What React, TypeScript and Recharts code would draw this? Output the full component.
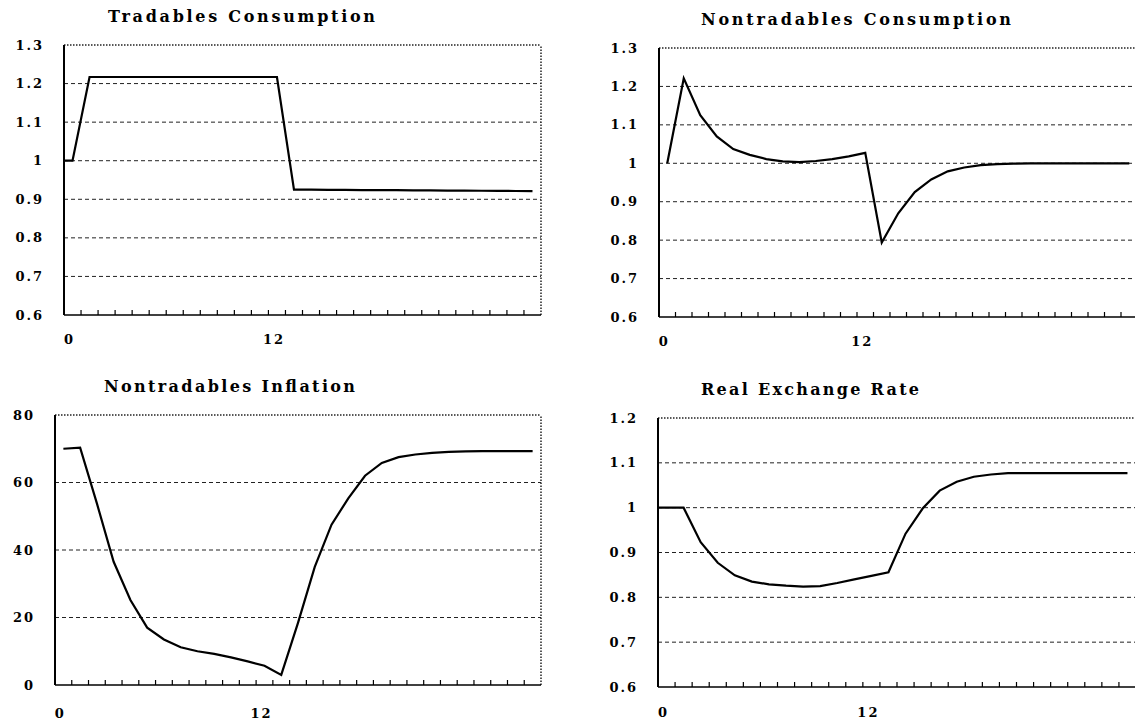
import React from 'react';
import { LineChart, Line, XAxis, YAxis, ReferenceLine } from 'recharts';

// periods (quarters) and values
const tradablesPeriods = [-0.5, 0, 1, 2, 3, 4, 5, 6, 7, 8, 9, 10, 11, 12, 13, 14, 15, 16, 17, 18, 19, 20, 21, 22, 23, 24, 25, 26, 27];
const tradables = [1.0, 1.0, 1.217, 1.217, 1.217, 1.217, 1.217, 1.217, 1.217, 1.217, 1.217, 1.217, 1.217, 1.217,
  0.925, 0.925, 0.9245, 0.9243, 0.924, 0.9237, 0.9235, 0.9232, 0.923, 0.9227, 0.9224, 0.9221, 0.9218, 0.9215, 0.921];

const nontradablesPeriods = [0, 1, 2, 3, 4, 5, 6, 7, 8, 9, 10, 11, 12, 13, 14, 15, 16, 17, 18, 19, 20, 21, 22, 23, 24, 25, 26, 27, 28];
const nontradables = [1.0, 1.221, 1.125, 1.07, 1.037, 1.022, 1.011, 1.005, 1.003, 1.006, 1.011, 1.018, 1.027,
  0.794, 0.87, 0.925, 0.958, 0.979, 0.989, 0.995, 0.998, 0.999, 1.0, 1.0, 1.0, 1.0, 1.0, 1.0, 1.0];

const inflationPeriods = [0, 1, 2, 3, 4, 5, 6, 7, 8, 9, 10, 11, 12, 13, 14, 15, 16, 17, 18, 19, 20, 21, 22, 23, 24, 25, 26, 27, 28];
const inflation = [70, 70.3, 53.8, 36.5, 25.2, 17.0, 13.5, 11.2, 10.0, 9.2, 8.2, 7.0, 5.7, 3.0,
  18.4, 35, 47.5, 55.3, 62, 65.8, 67.5, 68.3, 68.8, 69.1, 69.2, 69.3, 69.3, 69.3, 69.3];

const rerPeriods = [-0.5, 0, 1, 2, 3, 4, 5, 6, 7, 8, 9, 10, 11, 12, 13, 14, 15, 16, 17, 18, 19, 20, 21, 22, 23, 24, 25, 26, 27];
const rer = [1.0, 1.0, 1.0, 0.923, 0.877, 0.849, 0.835, 0.829, 0.826, 0.824, 0.825, 0.832, 0.84, 0.848, 0.856,
  0.942, 0.998, 1.038, 1.058, 1.069, 1.074, 1.077, 1.077, 1.077, 1.077, 1.077, 1.077, 1.077, 1.077];

const consumptionTicks = [0.6, 0.7, 0.8, 0.9, 1, 1.1, 1.2, 1.3];
const inflationTicks = [0, 20, 40, 60, 80];
const rerTicks = [0.6, 0.7, 0.8, 0.9, 1, 1.1, 1.2];
const xLabels = [0, 12];

const titles = [
  { text: 'Tradables Consumption', x: 108, y: 22, w: 267 },
  { text: 'Nontradables Consumption', x: 701, y: 25, w: 310 },
  { text: 'Nontradables Inflation', x: 104, y: 392, w: 251 },
  { text: 'Real Exchange Rate', x: 701, y: 395, w: 218 },
];

const serif = { fontFamily: '"DejaVu Serif", "Liberation Serif", serif', fontWeight: 700 };

const rows = (periods: number[], values: number[]) => periods.map((t, i) => ({ t, v: values[i] }));

function xTicksFor(max: number) {
  const half: number[] = [];
  for (let t = 0.5; t < max; t += 1) half.push(t);
  return [...half, ...xLabels].sort((a, b) => a - b);
}

type PanelProps = {
  left: number; top: number; width: number; height: number;
  margin: { top: number; right: number; bottom: number; left: number };
  yWidth: number; xHeight: number; xMax: number;
  yDomain: [number, number]; yTicks: number[];
  data: { t: number; v: number }[];
  labelDy: number;
};

function Panel(p: PanelProps) {
  const XTick = (props: any) => {
    const { x, y, payload } = props;
    if (xLabels.includes(payload.value)) {
      return (
        <text x={x - 3} y={y + p.labelDy} textAnchor="middle" dominantBaseline="central"
          fontSize={13} letterSpacing={2} fill="#000" style={serif}>{payload.value}</text>
      );
    }
    return <line x1={x} x2={x} y1={y} y2={y - 5} stroke="#000" strokeWidth={1.2} />;
  };
  const YTick = (props: any) => {
    const { x, y, payload } = props;
    return (
      <text x={x - 20} y={y} textAnchor="end" dominantBaseline="central"
        fontSize={13} letterSpacing={2} fill="#000" style={serif}>{payload.value}</text>
    );
  };
  const inner = p.yTicks.slice(1, -1);
  const yTop = p.yTicks[p.yTicks.length - 1];
  return (
    <div style={{ position: 'absolute', left: p.left, top: p.top }}>
      <LineChart width={p.width} height={p.height} data={p.data} margin={p.margin}>
        <XAxis type="number" dataKey="t" domain={[-0.5, p.xMax]} ticks={xTicksFor(p.xMax)} interval={0}
          height={p.xHeight} tickLine={false} tickSize={0} tickMargin={0} tick={XTick}
          axisLine={{ stroke: '#000', strokeWidth: 1.5 }} />
        <YAxis type="number" domain={p.yDomain} ticks={p.yTicks} interval={0} width={p.yWidth}
          tickLine={false} tickSize={0} tickMargin={0} tick={YTick}
          axisLine={{ stroke: '#000', strokeWidth: 2 }} />
        {inner.map(v => (
          <ReferenceLine key={v} y={v} stroke="#222" strokeWidth={1} strokeDasharray="4 3" />
        ))}
        <ReferenceLine y={yTop} stroke="#222" strokeWidth={1.3} strokeDasharray="1.5 1.5" />
        <ReferenceLine x={p.xMax} stroke="#222" strokeWidth={1.5} strokeDasharray="1.5 1.5" />
        <Line type="linear" dataKey="v" stroke="#000" strokeWidth={2.2} dot={false} isAnimationActive={false} />
      </LineChart>
    </div>
  );
}

export default function App() {
  return (
    <div style={{ position: 'absolute', left: 0, top: 0, width: 1135, height: 726, overflow: 'hidden', background: '#fff' }}>
      <Panel left={0} top={0} width={560} height={360}
        margin={{ top: 45, right: 19, bottom: 5, left: 0 }} yWidth={64} xHeight={40} xMax={27.5}
        yDomain={[0.6, 1.3]} yTicks={consumptionTicks} data={rows(tradablesPeriods, tradables)} labelDy={24} />
      <Panel left={580} top={0} width={560} height={360}
        margin={{ top: 48, right: 2.5, bottom: 5, left: 0 }} yWidth={79} xHeight={38} xMax={28.5}
        yDomain={[0.6, 1.3]} yTicks={consumptionTicks} data={rows(nontradablesPeriods, nontradables)} labelDy={24} />
      <Panel left={0} top={370} width={560} height={356}
        margin={{ top: 45, right: 19, bottom: 5, left: 0 }} yWidth={55} xHeight={36} xMax={28.5}
        yDomain={[0, 80]} yTicks={inflationTicks} data={rows(inflationPeriods, inflation)} labelDy={28} />
      <Panel left={580} top={370} width={560} height={356}
        margin={{ top: 48, right: 4, bottom: 5, left: 0 }} yWidth={78} xHeight={34} xMax={27.5}
        yDomain={[0.6, 1.2]} yTicks={rerTicks} data={rows(rerPeriods, rer)} labelDy={25} />
      <svg width={1135} height={726} style={{ position: 'absolute', left: 0, top: 0, pointerEvents: 'none' }}>
        {titles.map(t => (
          <text key={t.text} x={t.x} y={t.y} textLength={t.w} lengthAdjust="spacing"
            fontSize={16} fill="#000" style={serif}>{t.text}</text>
        ))}
      </svg>
    </div>
  );
}
